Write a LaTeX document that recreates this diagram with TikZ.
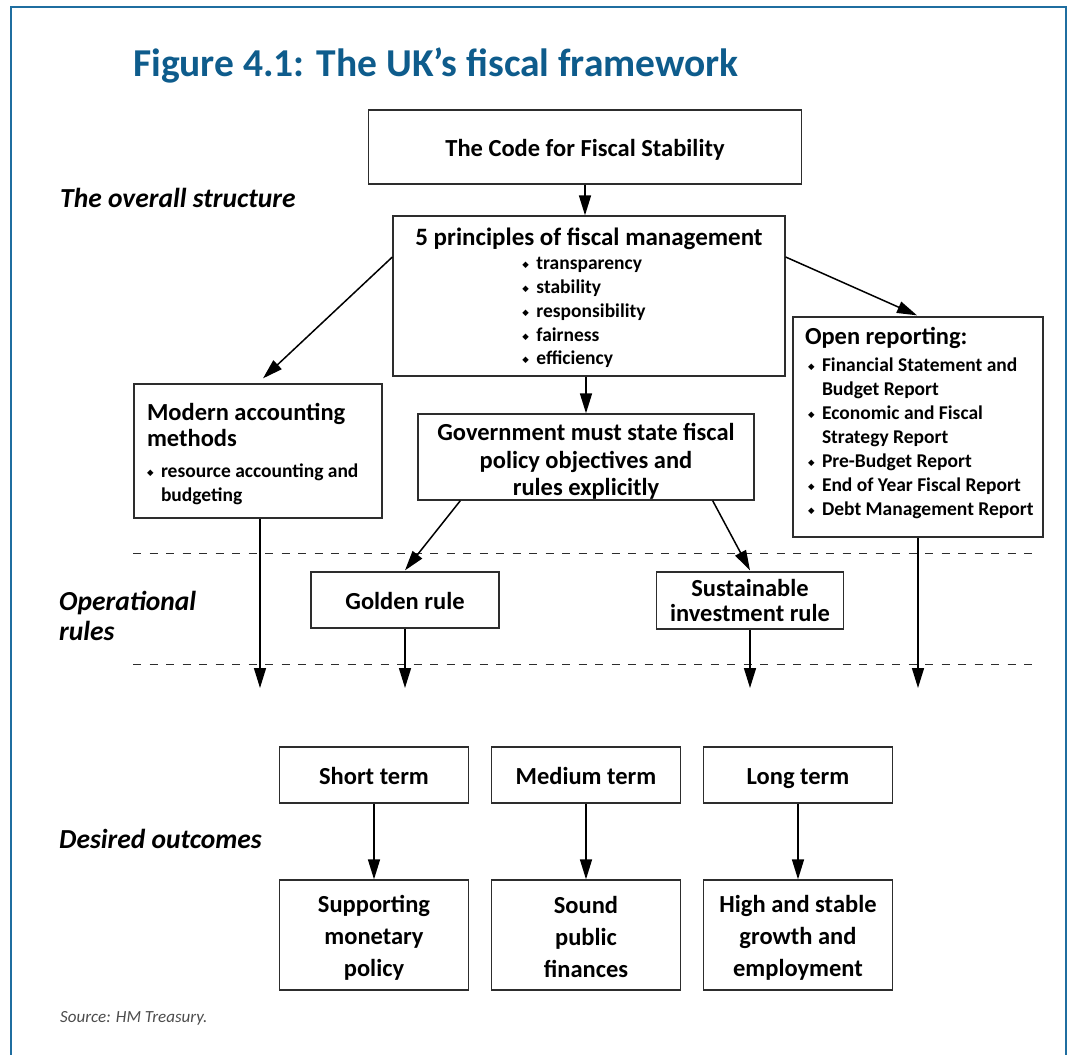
\documentclass[tikz,border=0pt]{standalone}
\usepackage{fontspec}
\setmainfont{Carlito}
\newfontfamily\symfont{DejaVu Sans}
\usetikzlibrary{arrows.meta,calc}
\definecolor{frameblue}{RGB}{31,110,160}
\definecolor{titleblue}{RGB}{14,92,140}
\definecolor{boxline}{RGB}{45,45,45}
\hyphenpenalty=10000
\exhyphenpenalty=10000
% small diamond bullet and the matching hanging indent
\newcommand\dia{\makebox[14pt][l]{\raisebox{2pt}{\symfont\fontsize{8.5}{8.5}\selectfont ◆}}}
\newcommand\hangin{\hspace*{14pt}}
% invisible struts that give the first line extra head room / the last line extra foot room
\newcommand\headroom[1]{\rule{0pt}{#1}}
\newcommand\footroom[1]{\rule[-#1]{0pt}{1pt}}
\begin{document}
\begin{tikzpicture}[x=1pt,y=-1pt,
  box/.style={draw=boxline, line width=1.3pt, fill=white, inner sep=0pt,
    font=\bfseries\fontsize{24.5}{27}\selectfont, align=flush center},
  oneline/.style={text height=19pt, text depth=1pt},
  goal/.style={box, minimum width=189pt, minimum height=110pt, text width=185pt,
    font=\bfseries\fontsize{24.5}{32}\selectfont},
  term/.style={box, oneline, minimum width=189pt, minimum height=56pt, text width=180pt},
  arr/.style={-{Triangle[length=20pt,width=12pt]}, line width=1.5pt, black},
  divider/.style={boxline, line width=1pt, dash pattern=on 8pt off 8.5pt},
  sidelabel/.style={anchor=west, inner sep=0pt, font=\bfseries\itshape\fontsize{27.5}{30}\selectfont, align=flush left}]
\useasboundingbox (0,0) rectangle (1069,1055);

% frame
\draw[frameblue, line width=2pt] (11,1060) -- (11,7) -- (1066,7) -- (1066,1060);

% heading
\node[anchor=base west, inner sep=0pt, text=titleblue,
      font=\bfseries\fontsize{39.5}{44}\selectfont] (title) at (133,76)
  {Figure 4.1: The UK’s fiscal framework};

% section labels
\node[sidelabel] (lstruct) at (60,198) {The overall structure};
\node[sidelabel] (lrules) at (59,616) {Operational\\rules};
\node[sidelabel] (lout) at (59,839) {Desired outcomes};

% dividers
\coordinate (d1a) at (133,553); \coordinate (d1b) at (1037,553);
\coordinate (d2a) at (133,664); \coordinate (d2b) at (1037,664);
\draw[divider] (d1a) -- (d1b);
\draw[divider] (d2a) -- (d2b);

% top level
\node[box, oneline, minimum width=433pt, minimum height=74pt, text width=420pt] (code) at (585,147)
  {The Code for Fiscal Stability};

\node[box, minimum width=392pt, minimum height=160pt, text width=385pt] (princ) at (589,296)
  {{\fontsize{25}{28}\selectfont \headroom{26pt}5 principles of fiscal management\par}\vspace{2pt}
   {\fontsize{19.5}{23.8}\selectfont
    \begin{tabular}{@{}l@{}}
     \dia transparency\\
     \dia stability\\
     \dia responsibility\\
     \dia fairness\\
     \dia efficiency
    \end{tabular}\hspace*{10pt}\par}};

\node[box, minimum width=248pt, minimum height=134pt, text width=222pt, align=flush left] (modern) at (258,451)
  {{\fontsize{24.5}{26}\selectfont \headroom{23pt}Modern accounting\\methods\par}\vspace{7pt}
   {\fontsize{19.5}{24}\selectfont \dia resource accounting and\\\hangin budgeting\par}};

\node[box, minimum width=336pt, minimum height=86pt, text width=330pt, font=\bfseries\fontsize{24.5}{27.5}\selectfont] (gov) at (586,457)
  {\headroom{26pt}Government must state fiscal\\policy objectives and\\rules explicitly};

\node[box, minimum width=250pt, minimum height=220pt, text width=226pt, align=flush left] (open) at (918,427)
  {{\fontsize{24.5}{27}\selectfont Open reporting:\par}\vspace{3pt}
   {\fontsize{19.5}{24}\selectfont
    \hspace*{3pt}\dia\mbox{Financial Statement and}\\\hspace*{3pt}\hangin Budget Report\\
    \hspace*{3pt}\dia\mbox{Economic and Fiscal}\\\hspace*{3pt}\hangin Strategy Report\\
    \hspace*{3pt}\dia\mbox{Pre-Budget Report}\\
    \hspace*{3pt}\dia\mbox{End of Year Fiscal Report}\\
    \hspace*{3pt}\dia\mbox{Debt Management Report}\footroom{11pt}\par}};

% operational rules
\node[box, oneline, minimum width=188pt, minimum height=56pt, text width=180pt] (golden) at (405,600)
  {Golden rule};
\node[box, minimum width=187pt, minimum height=57pt, text width=185pt, font=\bfseries\fontsize{24.5}{25}\selectfont] (sust) at (750,600.5)
  {Sustainable\\investment rule};

% outcomes
\node[term] (short) at (374,775) {Short term};
\node[term] (medium) at (586,775) {Medium term};
\node[term] (long) at (798,775) {Long term};

\node[goal] (shortgoal) at (374,935) {\headroom{22pt}Supporting\\monetary\\policy};
\node[goal] (mediumgoal) at (586,935) {\headroom{22pt}Sound\\public\\finances};
\node[goal] (longgoal) at (798,935) {\headroom{22pt}High and stable\\growth and\\employment};

% source
\node[anchor=base west, inner sep=0pt, text=black!70, font=\itshape\fontsize{17}{18}\selectfont] (src) at (60,1022)
  {Source: HM Treasury.};

% connectors
\draw[arr] (code.south) -- (code.south |- princ.north);
\draw[arr] (gov.north |- princ.south) -- (gov.north);
\draw[arr] ($(princ.west)+(0,-39)$) -- ($(modern.north)+(5,-5)$);
\draw[arr] ($(princ.east)+(0,-39)$) -- ($(open.north)+(-1,-1)$);
\draw[arr] ($(gov.south west)+(43,0)$) -- ($(golden.north)+(0,-1)$);
\draw[arr] ($(gov.south east)+(-42,0)$) -- ($(sust.north)+(0,-1)$);

\coordinate (e1) at (260,688);
\coordinate (e2) at (405,688);
\coordinate (e3) at (750,688);
\coordinate (e4) at (918,688);
\draw[arr] (modern.south -| e1) -- (e1);
\draw[arr] (golden.south) -- (e2);
\draw[arr] (sust.south) -- (e3);
\draw[arr] (open.south) -- (e4);

\draw[arr] (short.south) -- (shortgoal.north);
\draw[arr] (medium.south) -- (mediumgoal.north);
\draw[arr] (long.south) -- (longgoal.north);
\end{tikzpicture}
\end{document}
